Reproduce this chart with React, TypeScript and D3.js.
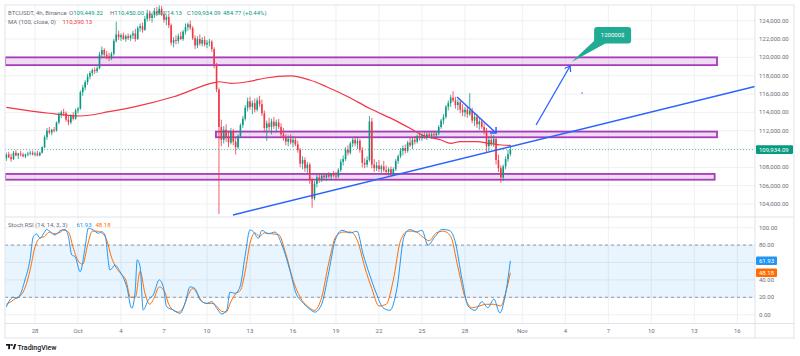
import React from 'react';
import * as d3 from 'd3';

// ---------- DATA ----------
// 4h candles from 2025-09-26 00:00 UTC, [open, high, low, close] in thousand USDT
const candleStartUTC = Date.UTC(2025, 8, 26);
const candleStepMs = 4 * 3600 * 1000;
const candles: number[][] = [
  [109.0,109.6,108.7,109.4],[109.4,109.7,109.0,109.1],[109.1,109.5,108.6,108.9],[108.9,109.8,108.8,109.6],[109.6,109.9,109.2,109.3],[109.3,109.6,108.9,109.5],
  [109.5,109.8,109.2,109.4],[109.4,109.6,109.1,109.2],[109.2,109.5,109.0,109.4],[109.4,109.7,109.2,109.5],[109.5,109.8,109.3,109.6],[109.6,109.8,109.3,109.4],
  [109.4,109.7,109.2,109.5],[109.5,109.8,109.2,109.3],[109.3,109.7,109.2,109.6],[109.6,110.3,109.5,110.2],[110.2,111.5,110.1,111.3],[111.3,112.3,111.0,112.0],
  [112.0,112.4,111.6,111.8],[111.8,112.2,111.5,112.1],[112.1,112.4,111.8,112.0],[112.0,113.0,111.9,112.9],[112.9,114.0,112.7,113.8],[113.8,114.2,113.4,114.0],
  [114.0,114.4,113.6,113.9],[113.9,114.1,113.0,113.2],[113.2,113.6,112.6,112.9],[112.9,113.8,112.7,113.6],[113.6,114.0,113.1,113.3],[113.3,114.4,113.2,114.2],
  [114.2,114.6,113.9,114.4],[114.4,116.4,114.3,116.2],[116.2,117.0,115.8,116.7],[116.7,117.5,116.4,117.3],[117.3,118.2,117.0,117.9],[117.9,118.5,117.6,118.3],
  [118.3,118.8,118.0,118.6],[118.6,118.9,118.2,118.5],[118.5,119.0,118.3,118.8],[118.8,120.6,118.7,120.3],[120.3,121.2,119.9,120.8],[120.8,121.0,120.0,120.3],
  [120.3,120.7,119.8,120.1],[120.1,120.5,119.6,119.9],[119.9,120.6,119.7,120.4],[120.4,122.0,120.2,121.8],[121.8,123.9,121.6,122.5],[122.5,122.9,121.9,122.2],
  [122.2,122.6,121.8,122.4],[122.4,122.7,121.9,122.0],[122.0,122.5,121.7,122.3],[122.3,122.6,121.9,122.1],[122.1,122.5,121.8,122.4],[122.4,122.9,122.0,122.6],
  [122.6,123.1,121.7,122.0],[122.0,123.4,121.9,123.2],[123.2,123.7,122.8,123.4],[123.4,123.8,122.7,123.0],[123.0,124.5,122.9,124.2],[124.2,125.2,123.9,124.8],
  [124.8,125.1,124.0,124.3],[124.3,124.9,123.8,124.6],[124.6,125.4,124.3,125.0],[125.0,125.5,124.5,124.8],[124.8,125.9,124.6,125.3],[125.3,125.6,124.5,124.7],
  [124.7,125.0,123.8,124.1],[124.1,124.6,123.5,124.4],[124.4,124.7,123.2,123.5],[123.5,123.7,121.3,121.6],[121.6,122.2,121.1,121.9],[121.9,122.4,121.4,121.8],
  [121.8,122.6,121.5,122.3],[122.3,122.8,121.9,122.0],[122.0,123.0,121.8,122.8],[122.8,123.7,122.5,123.3],[123.3,123.8,122.9,123.6],[123.6,124.0,123.0,123.2],
  [123.2,123.4,121.9,122.1],[122.1,122.4,120.9,121.3],[121.3,122.3,121.0,122.0],[122.0,122.5,121.3,121.5],[121.5,122.2,121.2,121.9],[121.9,122.3,121.2,121.4],
  [121.4,121.9,121.0,121.6],[121.6,122.0,121.2,121.7],[121.7,121.9,120.6,120.9],[120.9,121.1,118.8,119.2],[119.2,119.4,116.2,116.5],[116.5,116.7,102.9,112.4],
  [112.4,113.2,110.3,111.0],[111.0,112.5,110.6,112.1],[112.1,112.7,110.8,111.2],[111.2,112.0,110.2,110.7],[110.7,112.3,110.5,111.9],[111.9,112.2,110.4,110.8],
  [110.8,111.2,109.4,110.2],[110.2,111.6,110.0,111.4],[111.4,112.8,111.2,112.6],[112.6,113.6,112.3,113.3],[113.3,114.8,113.1,114.5],[114.5,115.6,114.1,115.2],
  [115.2,115.7,114.3,114.6],[114.6,115.3,113.8,115.0],[115.0,115.5,114.0,114.3],[114.3,115.6,114.1,115.3],[115.3,115.8,114.6,114.9],[114.9,115.4,113.6,113.9],
  [113.9,114.2,111.8,112.3],[112.3,113.1,110.9,112.8],[112.8,113.4,112.0,112.4],[112.4,113.3,111.6,113.0],[113.0,113.5,112.2,112.5],[112.5,113.2,111.8,112.9],
  [112.9,113.3,112.2,112.4],[112.4,112.8,111.3,111.6],[111.6,112.3,110.9,111.2],[111.2,111.6,110.4,110.8],[110.8,111.5,110.3,111.1],[111.1,111.6,110.5,110.7],
  [110.7,111.4,110.2,111.0],[111.0,111.3,110.3,110.5],[110.5,110.9,109.6,109.9],[109.9,110.1,108.0,108.4],[108.4,109.2,107.8,108.8],[108.8,109.1,107.5,107.9],
  [107.9,108.6,107.4,108.3],[108.3,108.5,106.2,106.6],[106.6,106.8,103.6,104.6],[104.6,106.5,104.4,106.2],[106.2,107.2,105.8,106.9],[106.9,107.4,106.3,106.7],
  [106.7,107.3,106.4,107.1],[107.1,107.4,106.7,106.9],[106.9,107.3,106.5,107.2],[107.2,107.5,106.8,107.0],[107.0,107.4,106.6,107.3],[107.3,107.6,106.9,107.1],
  [107.1,107.5,106.7,107.0],[107.0,107.9,106.8,107.7],[107.7,108.9,107.5,108.6],[108.6,109.3,108.2,108.9],[108.9,110.2,108.7,109.9],[109.9,110.4,109.3,109.6],
  [109.6,110.8,109.4,110.6],[110.6,111.3,110.2,111.0],[111.0,111.4,110.3,110.6],[110.6,111.2,110.0,110.9],[110.9,111.1,109.6,109.9],[109.9,110.2,108.0,108.5],
  [108.5,109.0,107.9,108.3],[108.3,109.2,108.0,108.8],[108.8,113.6,108.6,113.0],[113.0,113.4,107.9,108.3],[108.3,108.9,107.5,107.9],[107.9,108.6,107.6,108.2],
  [108.2,108.8,107.5,107.8],[107.8,108.3,107.4,108.1],[108.1,108.7,107.5,107.7],[107.7,108.2,107.2,107.5],[107.5,108.0,107.1,107.8],[107.8,108.1,107.0,107.3],
  [107.3,108.0,107.1,107.8],[107.8,108.9,107.6,108.7],[108.7,109.4,108.4,109.2],[109.2,110.1,109.0,109.8],[109.8,110.4,109.3,110.1],[110.1,110.5,109.5,109.8],
  [109.8,110.9,109.6,110.7],[110.7,111.3,110.2,110.4],[110.4,111.2,110.0,111.0],[111.0,111.4,110.5,110.8],[110.8,111.6,110.6,111.4],[111.4,111.8,110.9,111.2],
  [111.2,111.7,110.9,111.5],[111.5,111.9,111.1,111.3],[111.3,111.8,111.0,111.6],[111.6,111.9,111.2,111.4],[111.4,111.8,111.1,111.6],[111.6,112.0,111.3,111.5],
  [111.5,111.9,111.2,111.7],[111.7,112.6,111.5,112.4],[112.4,113.3,112.2,113.1],[113.1,113.8,112.7,113.5],[113.5,114.8,113.3,114.6],[114.6,115.3,114.2,115.0],
  [115.0,115.9,114.6,115.6],[115.6,116.3,115.1,115.3],[115.3,115.7,114.4,114.8],[114.8,115.4,114.2,115.1],[115.1,115.3,113.9,114.3],[114.3,114.9,113.6,114.0],
  [114.0,114.6,113.5,114.3],[114.3,114.7,113.4,113.8],[113.8,116.1,113.6,114.2],[114.2,114.5,112.8,113.1],[113.1,113.9,112.5,113.5],[113.5,113.8,112.3,112.7],
  [112.7,113.4,112.1,113.0],[113.0,113.3,112.2,112.4],[112.4,112.8,111.6,112.0],[112.0,112.3,109.6,110.3],[110.3,111.4,109.8,111.0],[111.0,111.6,110.3,110.6],
  [110.6,111.5,110.2,111.1],[111.1,111.3,108.3,108.8],[108.8,109.4,107.5,107.9],[107.9,108.2,106.3,106.9],[106.9,108.3,106.5,108.1],[108.1,109.2,107.8,108.9],
  [108.9,109.9,108.6,109.449],[109.449,110.45,109.214,109.934],
];

// MA(100): candle index -> value (thousand USDT)
const maIdx = [0, 18, 31, 43, 54, 70, 87, 89, 94, 101, 108, 119, 127, 134, 143, 152, 163, 169, 174, 182, 186, 190, 197, 202, 207, 211];
const maVal = [114.55, 113.9, 113.6, 114.07, 114.62, 115.7, 117.24, 117.34, 117.17, 117.34, 117.72, 117.97, 117.53, 116.8, 115.71, 114.44, 113.1, 112.26, 111.53, 110.98, 110.62, 110.8, 110.8, 110.62, 110.44, 110.39];

// Stoch RSI %K (blue) and %D (orange): candle index -> value
const kIdx = [0, 1.5, 3, 4.4, 5.7, 7.8, 9.9, 11.3, 12.7, 14.1, 15.5, 16.9, 18.3, 20.4, 22.5, 24.6, 26, 27.4, 28.8, 30.9, 33, 34.3, 36.4, 38.5, 39.9, 41.3, 43.4, 45.5, 47.6, 50.4, 52.5, 53.9, 54.8, 56, 57.3, 59.4, 61.5, 64, 65.7, 67.1, 69.9, 72.7, 74.8, 76.9, 79, 81.1, 83.9, 86, 88.1, 90.2, 92.3, 93.6, 95.7, 97.8, 99.9, 102, 103.4, 105.5,
  107, 109.5, 112.5, 115.4, 118.8, 121.2, 123.7, 126.3, 129.2, 132, 134.7, 137.6, 140.5, 143.9, 146.8, 149.3, 152.2, 154.8, 157.7, 160.6, 163.5, 166.5, 169, 171.5, 174, 176.5, 179.5, 182.4, 185.4, 187.8, 190.8, 193.3, 196.2, 199.1, 201.6, 204.1, 206.6, 208.7, 211];
const kVal = [9, 17, 20, 19, 22.6, 40, 63, 89.7, 92.8, 87.8, 92.8, 98, 95.4, 91.6, 96.6, 98, 89.7, 68.6, 66.7, 49.4, 78, 99.3, 97.4, 93.6, 95.4, 91.6, 51.4, 57, 49.4, 32, 7.4, 26, 63, 55, 5.4, 17, 22.6, 40, 32, 9.2, 5.4, 1.6, 13, 32, 30, 17, 13, 15, 7.4, 0.8, 5.4, 26, 24.6, 32, 66.7, 97.4, 95.4, 87.8,
  97, 93, 95, 80, 50, 25, 15, 8, 3, 12, 45, 85, 97, 94, 96, 70, 45, 25, 8, 5, 30, 90, 98, 95, 97, 80, 90, 98, 97, 85, 40, 10, 5, 15, 8, 18, 2, 20, 61.93];
const dIdx = [0, 2, 4, 6, 8, 10, 12, 14, 16, 18, 20, 22, 24, 26, 28, 30, 32, 34, 36, 38, 40, 42, 44, 46, 48, 50, 52, 54, 56, 58, 60, 62, 64, 66, 68, 70, 72, 74, 76, 78, 80, 82, 84, 86, 88, 90, 92, 94, 96, 98, 100, 102, 104, 106,
  108, 111, 114, 117, 120, 123, 126, 129, 132, 135, 138, 141, 144, 147, 150, 153, 156, 159, 162, 165, 168, 171, 174, 177, 180, 183, 186, 189, 192, 195, 198, 201, 204, 207, 209, 211];
const dVal = [12, 15, 19, 22, 32, 52, 78, 88, 90, 95, 93, 94, 97, 95, 77, 62, 58, 80, 96, 96, 94, 86, 66, 54, 47, 40, 20, 20, 50, 25, 12, 20, 32, 28, 12, 5, 3, 8, 22, 30, 24, 15, 13, 13, 10, 4, 3, 15, 24, 28, 50, 82, 94, 90,
  94, 93, 92, 70, 40, 20, 10, 5, 20, 60, 90, 95, 95, 85, 55, 30, 10, 12, 40, 85, 96, 96, 90, 85, 94, 96, 90, 55, 20, 8, 10, 12, 12, 10, 25, 48.18];

const priceTicks = d3.range(104000, 124001, 2000);
const rsiTicks = [0, 20, 40, 60, 80, 100];
const timeTickDates = ['2025-09-28', '2025-10-01', '2025-10-04', '2025-10-07', '2025-10-10', '2025-10-13', '2025-10-16', '2025-10-19', '2025-10-22', '2025-10-25', '2025-10-28', '2025-11-01', '2025-11-04', '2025-11-07', '2025-11-10', '2025-11-13', '2025-11-16'];
const timeTickLabels = ['28', 'Oct', '4', '7', '10', '13', '16', '19', '22', '25', '28', 'Nov', '4', '7', '10', '13', '16'];

// Drawings (time, price)
const zones = [
  { from: '2025-09-25T22:00Z', to: '2025-11-14T14:00Z', lo: 119150, hi: 120000 },
  { from: '2025-10-10T15:00Z', to: '2025-11-14T14:00Z', lo: 111280, hi: 111900 },
  { from: '2025-09-25T22:00Z', to: '2025-11-14T10:00Z', lo: 106650, hi: 107280 },
];
const trendLine = [{ t: '2025-10-11T19:30Z', p: 102800 }, { t: '2025-11-17T05:30Z', p: 116820 }];
const arrowDown = [{ t: '2025-10-27T10:40Z', p: 115670 }, { t: '2025-10-30T04:00Z', p: 111750 }];
const arrowUp = [{ t: '2025-11-01T23:00Z', p: 112620 }, { t: '2025-11-04T08:00Z', p: 119060 }];
const calloutText = '120000$';

const lastClose = 109934.09;
const maLast = 110390.13;
const kLast = 61.93;
const dLast = 48.18;

// ---------- LAYOUT ----------
const W = 800, H = 356;
const L = 5, PR = 755, R = 794, T = 5, MAIN_B = 217, RSI_B = 323.5, AX_B = 338;
const FONT = 'Roboto, "Noto Sans", sans-serif';
const UP = '#089981', DOWN = '#f23645', GRID = '#eef0f3', TXT = '#6b6e79';
const FS = 6;

const xT = d3.scaleUtc().domain([new Date('2025-09-28T00:00Z'), new Date('2025-11-16T00:00Z')]).range([35, 737.33]);
const yP = d3.scaleLinear().domain([104000, 124000]).range([204, 20.7]);
const yR = d3.scaleLinear().domain([0, 100]).range([314.7, 227.7]);
const xI = (i: number) => xT(new Date(candleStartUTC + i * candleStepMs));
const fmt = d3.format(',.2f');

export default function App() {
  const maLine = d3.line<number>().x((_, j) => xI(maIdx[j])).y((v) => yP(v * 1000)).curve(d3.curveMonotoneX)(maVal) || '';
  const kLine = d3.line<number>().x((_, j) => xI(kIdx[j])).y((v) => yR(v)).curve(d3.curveMonotoneX)(kVal) || '';
  const dLine = d3.line<number>().x((_, j) => xI(dIdx[j])).y((v) => yR(v)).curve(d3.curveMonotoneX)(dVal) || '';
  const pt = (o: { t: string; p: number }) => [xT(new Date(o.t)), yP(o.p)];
  const [t1, t2] = trendLine.map(pt);
  const [a1, a2] = arrowDown.map(pt);
  const [b1, b2] = arrowUp.map(pt);
  const bw = 1.6;
  const cx = b2[0] + 24, cy = b2[1] - 39;
  const priceLabelY = yP(lastClose);
  const visiblePriceTicks = priceTicks.filter((p) => Math.abs(yP(p) - priceLabelY) > 8);
  const visibleRsiTicks = rsiTicks.filter((v) => Math.abs(yR(v) - yR(kLast)) > 7 && Math.abs(yR(v) - yR(dLast)) > 6);

  return (
    <svg width={W} height={H} style={{ position: 'absolute', left: 0, top: 0, background: '#fff' }} fontFamily={FONT}>
      <defs>
        <clipPath id="mainClip"><rect x={L} y={T} width={PR - L} height={MAIN_B - T} /></clipPath>
        <clipPath id="rsiClip"><rect x={L} y={MAIN_B} width={PR - L} height={RSI_B - MAIN_B} /></clipPath>
      </defs>
      <rect x={0} y={0} width={W} height={H} fill="#fff" />
      {timeTickDates.map((d) => (
        <line key={d} x1={xT(new Date(d + 'T00:00Z'))} x2={xT(new Date(d + 'T00:00Z'))} y1={T} y2={RSI_B} stroke={GRID} />
      ))}
      {priceTicks.map((p) => (
        <line key={p} x1={L} x2={PR} y1={yP(p)} y2={yP(p)} stroke={GRID} />
      ))}
      {rsiTicks.map((v) => (
        <line key={v} x1={L} x2={PR} y1={yR(v)} y2={yR(v)} stroke={GRID} />
      ))}

      <g clipPath="url(#mainClip)">
        {zones.map((z, i) => {
          const x1 = xT(new Date(z.from)), x2 = xT(new Date(z.to));
          return (
            <rect key={i} x={x1} y={yP(z.hi)} width={x2 - x1} height={yP(z.lo) - yP(z.hi)} fill="#9c27b0" fillOpacity={0.16} stroke="#a73bbb" strokeWidth={1.8} />
          );
        })}
        <line x1={L} x2={PR} y1={yP(lastClose)} y2={yP(lastClose)} stroke={UP} strokeDasharray="1 2" strokeOpacity={0.6} />
        <path d={maLine} fill="none" stroke="#f23645" strokeWidth={1.2} />
        {candles.map((c, i) => {
          const [o, h, l, cl] = c;
          const x = xI(i);
          const col = cl >= o ? UP : DOWN;
          const top = yP(Math.max(o, cl) * 1000), bot = yP(Math.min(o, cl) * 1000);
          return (
            <g key={i}>
              <line x1={x} x2={x} y1={yP(h * 1000)} y2={yP(l * 1000)} stroke={col} strokeWidth={0.8} />
              <rect x={x - bw / 2} y={top} width={bw} height={Math.max(0.6, bot - top)} fill={col} />
            </g>
          );
        })}
        <line x1={t1[0]} y1={t1[1]} x2={t2[0]} y2={t2[1]} stroke="#2962ff" strokeWidth={1.5} />
        <line x1={a1[0]} y1={a1[1]} x2={a2[0]} y2={a2[1]} stroke="#2962ff" strokeWidth={1.5} />
        <path d={`M${a2[0]},${a2[1] - 6}L${a2[0]},${a2[1]}L${a2[0] - 6},${a2[1]}`} fill="none" stroke="#2962ff" strokeWidth={1.5} />
        <line x1={b1[0]} y1={b1[1]} x2={b2[0]} y2={b2[1]} stroke="#2962ff" strokeWidth={1.3} />
        <path d={`M${b2[0] - 5.5},${b2[1] + 2.5}L${b2[0]},${b2[1]}L${b2[0] + 0.5},${b2[1] + 6}`} fill="none" stroke="#2962ff" strokeWidth={1.3} />
        <circle cx={b2[0] + 12} cy={b2[1] + 27} r={0.7} fill="#2962ff" />
        <path d={`M${cx + 2},${cy + 12}L${cx + 12},${cy + 16}L${b2[0] + 1.5},${b2[1] - 4}Z`} fill="#22ab94" />
        <rect x={cx} y={cy} width={37} height={16.5} rx={3} fill="#22ab94" />
        <text x={cx + 18.5} y={cy + 10.3} fontSize={FS} fill="#fff" textAnchor="middle">{calloutText}</text>
      </g>

      <g fontSize={FS}>
        <text x={8} y={15} fill={TXT}>BTCUSDT, 4h, Binance</text>
        <text x={69} y={15} fill={TXT}>O<tspan fill={UP}>109,449.32</tspan></text>
        <text x={110} y={15} fill={TXT}>H<tspan fill={UP}>110,450.00</tspan></text>
        <text x={149} y={15} fill={TXT}>L<tspan fill={UP}>109,214.13</tspan></text>
        <text x={187} y={15} fill={TXT}>C<tspan fill={UP}>109,934.09</tspan></text>
        <text x={223} y={15} fill={UP}>484.77 (+0.44%)</text>
        <text x={8} y={23.5} fill={TXT}>MA (100, close, 0)</text>
        <text x={62.5} y={23.5} fill="#f23645">{fmt(maLast)}</text>
      </g>

      <g clipPath="url(#rsiClip)">
        <rect x={L} y={yR(80)} width={PR - L} height={yR(20) - yR(80)} fill="#2196f3" fillOpacity={0.1} />
        <line x1={L} x2={PR} y1={yR(80)} y2={yR(80)} stroke="#9598a1" strokeDasharray="3 3" />
        <line x1={L} x2={PR} y1={yR(20)} y2={yR(20)} stroke="#9598a1" strokeDasharray="3 3" />
        <path d={dLine} fill="none" stroke="#ff6d00" strokeWidth={1} />
        <path d={kLine} fill="none" stroke="#2196f3" strokeWidth={1} />
      </g>
      <g fontSize={FS}>
        <text x={8} y={227.3} fill={TXT}>Stoch RSI (14, 14, 3, 3)</text>
        <text x={76.5} y={227.3} fill="#2196f3">{kLast.toFixed(2)}</text>
        <text x={95.5} y={227.3} fill="#ff6d00">{dLast.toFixed(2)}</text>
      </g>

      <rect x={L} y={T} width={R - L} height={AX_B - T} fill="none" stroke="#e0e3eb" />
      <line x1={L} x2={R} y1={MAIN_B} y2={MAIN_B} stroke="#e0e3eb" />
      <line x1={L} x2={R} y1={RSI_B} y2={RSI_B} stroke="#e0e3eb" />
      <line x1={PR} x2={PR} y1={T} y2={AX_B} stroke="#e0e3eb" />

      <g fontSize={FS} fill={TXT}>
        {visiblePriceTicks.map((p) => (
          <text key={p} x={759} y={yP(p) + 2.1}>{fmt(p)}</text>
        ))}
        {visibleRsiTicks.map((v) => (
          <text key={v} x={759} y={yR(v) + 2.1}>{fmt(v)}</text>
        ))}
      </g>
      <rect x={756} y={priceLabelY - 4.3} width={37} height={8.6} rx={1} fill={UP} />
      <text x={759} y={priceLabelY + 2.1} fontSize={FS} fill="#fff">{fmt(lastClose)}</text>
      <rect x={756} y={yR(kLast) - 4.3} width={21} height={8.6} rx={1} fill="#2196f3" />
      <text x={759} y={yR(kLast) + 2.1} fontSize={FS} fill="#fff">{kLast.toFixed(2)}</text>
      <rect x={756} y={yR(dLast) - 4.3} width={21} height={8.6} rx={1} fill="#ff6d00" />
      <text x={759} y={yR(dLast) + 2.1} fontSize={FS} fill="#fff">{dLast.toFixed(2)}</text>

      <g fontSize={FS} fill={TXT} textAnchor="middle">
        {timeTickDates.map((d, i) => (
          <text key={d} x={xT(new Date(d + 'T00:00Z'))} y={333.2}>{timeTickLabels[i]}</text>
        ))}
      </g>

      <g fill="#131722">
        <rect x={6} y={344} width={4.6} height={1.7} />
        <rect x={8.2} y={344} width={1.8} height={5.2} />
        <circle cx={11.9} cy={345} r={0.95} />
        <path d="M12.6,349.2L14.3,344L16.2,344L14.5,349.2Z" />
        <text x={17.5} y={349.5} fontSize={7} fontWeight={500}>TradingView</text>
      </g>
    </svg>
  );
}
